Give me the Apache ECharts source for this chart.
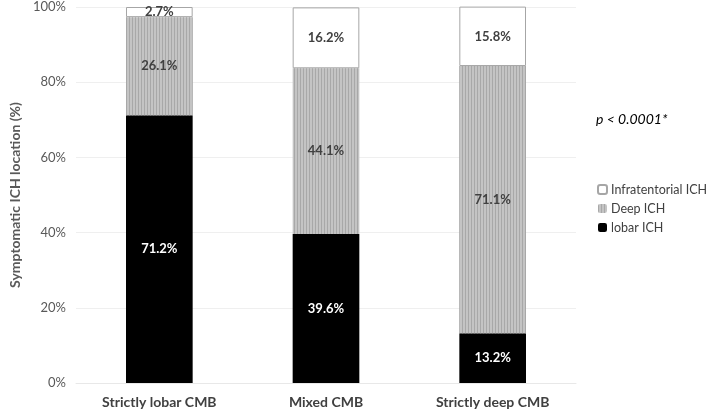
<!DOCTYPE html>
<html><head><meta charset="utf-8">
<script src="https://cdn.jsdelivr.net/npm/echarts@6/dist/echarts.min.js"></script>
<style>html,body{margin:0;padding:0;background:#fff}#c{width:708px;height:414px}</style>
</head><body><div id="c"></div>
<script>
var categories = ['Strictly lobar CMB', 'Mixed CMB', 'Strictly deep CMB'];
var lobarICH = [71.2, 39.6, 13.2];
var deepICH = [26.1, 44.1, 71.1];
var infraICH = [2.7, 16.2, 15.8];
var yTicks = [0, 20, 40, 60, 80, 100];

var FONT = 'Lato';
var chart = echarts.init(document.getElementById('c'), null, {renderer: 'canvas'});
function lbl(color) {
  return {show: true, position: 'inside', color: color, fontFamily: FONT, fontWeight: 'bold', fontSize: 13,
    formatter: function (p) { return p.value.toFixed(1) + '%'; }};
}
chart.setOption({
  animation: false,
  textStyle: {fontFamily: FONT},
  grid: {left: 73, right: 132, top: 7, bottom: 31},
  legend: {
    orient: 'vertical', left: 592, top: 178, itemWidth: 9, itemHeight: 9, itemGap: 6,
    textStyle: {fontFamily: FONT, fontSize: 12.5, color: '#404040', padding: [0, 0, 0, -1]},
    data: ['Infratentorial ICH', 'Deep ICH', 'lobar ICH']
  },
  graphic: [{type: 'text', left: 596, top: 112, style: {text: 'p < 0.0001*', fontFamily: FONT, fontStyle: 'italic', fontSize: 14, fill: '#000'}}],
  xAxis: {
    type: 'category', data: categories,
    axisLine: {show: true, lineStyle: {color: '#e8e8e8'}}, axisTick: {show: false},
    axisLabel: {fontFamily: FONT, fontWeight: 'bold', fontSize: 14, color: '#404040', margin: 12}
  },
  yAxis: {
    type: 'value', min: 0, max: 100, interval: 20,
    name: 'Symptomatic ICH location (%)', nameLocation: 'middle', nameGap: 54,
    nameTextStyle: {fontFamily: FONT, fontSize: 14, fontWeight: 'bold', color: '#595959'},
    axisLabel: {fontFamily: FONT, fontSize: 13, color: '#595959', margin: 10,
      formatter: function (v) { return yTicks.indexOf(v) >= 0 ? v + '%' : ''; }},
    splitLine: {lineStyle: {color: '#efefef'}}, axisLine: {show: false}, axisTick: {show: false}
  },
  series: [
    {name: 'lobar ICH', type: 'bar', stack: 's', data: lobarICH, barWidth: '40%',
      itemStyle: {color: '#000'}, label: lbl('#fff')},
    {name: 'Deep ICH', type: 'bar', stack: 's', data: deepICH,
      itemStyle: {color: '#c4c4c4', decal: {symbol: 'rect', symbolSize: 1, dashArrayX: [1, 2], dashArrayY: [10, 0], color: '#a8a8a8', rotation: 0}},
      label: lbl('#404040')},
    {name: 'Infratentorial ICH', type: 'bar', stack: 's', data: infraICH,
      itemStyle: {color: '#fff', borderColor: '#a6a6a6', borderWidth: 1}, label: lbl('#404040')}
  ]
});
</script></body></html>
